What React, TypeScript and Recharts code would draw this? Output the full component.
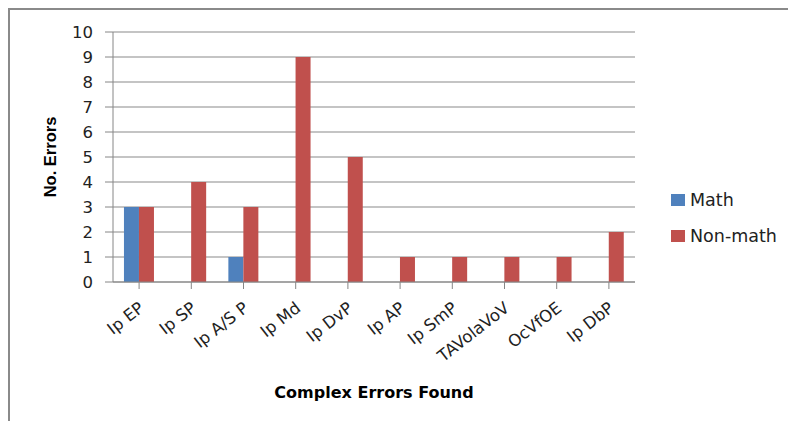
import React from 'react';
import { BarChart, Bar, XAxis, YAxis, CartesianGrid } from 'recharts';

const categories = ['Ip EP', 'Ip SP', 'Ip A/S P', 'Ip Md', 'Ip DvP', 'Ip AP', 'Ip SmP', 'TAVolaVoV', 'OcVfOE', 'Ip DbP'];
const mathValues = [3, 0, 1, 0, 0, 0, 0, 0, 0, 0];
const nonMathValues = [3, 4, 3, 9, 5, 1, 1, 1, 1, 2];
const yTicks = [0, 1, 2, 3, 4, 5, 6, 7, 8, 9, 10];
const seriesNames = ['Math', 'Non-math'];
const seriesColors = ['#4F81BD', '#C0504D'];

const data = categories.map((c, i) => ({ name: c, math: mathValues[i], nonmath: nonMathValues[i] }));

const FONT = '"DejaVu Sans", sans-serif';
const AXIS = '#868686';

const XTick = (props: any) => {
  const { x, y, payload } = props;
  return (
    <g transform={`translate(${x + 6},${y + 21})`}>
      <text textAnchor="end" transform="rotate(-38)" fontFamily={FONT} fontSize={16.5} fill="#222">
        {payload.value}
      </text>
    </g>
  );
};

const XTitle = (props: any) => {
  const { viewBox } = props;
  return (
    <text x={viewBox.x + viewBox.width / 2} y={viewBox.y + 116} textAnchor="middle" fontFamily={FONT} fontWeight="bold" fontSize={16} fill="#000">
      Complex Errors Found
    </text>
  );
};

const YTitle = (props: any) => {
  const { viewBox } = props;
  const cx = 56;
  const cy = viewBox.y + viewBox.height / 2;
  return (
    <text x={cx} y={cy} transform={`rotate(-90, ${cx}, ${cy})`} textAnchor="middle" fontFamily={'"Liberation Sans", sans-serif'} fontWeight="bold" fontSize={16.5} fill="#000">
      No. Errors
    </text>
  );
};

export default function App() {
  return (
    <div>
      <div style={{ position: 'fixed', left: 8, top: 8, right: 0, bottom: 0, borderTop: '2px solid #8a8a8a', borderLeft: '2px solid #8a8a8a', background: '#fff' }} />
      <div style={{ position: 'fixed', left: 0, top: 0, width: 788, height: 421 }}>
        <BarChart
          width={788}
          height={421}
          data={data}
          margin={{ top: 32, right: 153, left: 53, bottom: 39 }}
          barCategoryGap="21%"
          barGap={0}
        >
          <CartesianGrid vertical={false} stroke="#898989" strokeWidth={1} />
          <XAxis
            dataKey="name"
            interval={0}
            height={100}
            tickSize={7}
            tickMargin={0}
            stroke={AXIS}
            axisLine={{ stroke: AXIS }}
            tickLine={{ stroke: AXIS }}
            tick={<XTick />}
            label={<XTitle />}
          />
          <YAxis
            width={60}
            domain={[0, 10]}
            ticks={yTicks}
            interval={0}
            tickSize={8}
            tickMargin={12}
            stroke={AXIS}
            tick={{ fontFamily: FONT, fontSize: 16.5, fill: '#222' }}
            label={<YTitle />}
          />
          <Bar dataKey="math" name={seriesNames[0]} fill={seriesColors[0]} isAnimationActive={false} />
          <Bar dataKey="nonmath" name={seriesNames[1]} fill={seriesColors[1]} isAnimationActive={false} />
        </BarChart>
        {seriesNames.map((n, i) => (
          <div key={n} style={{ position: 'absolute', left: 671, top: 190 + i * 36, display: 'flex', alignItems: 'center', fontFamily: FONT, fontSize: 17.5, color: '#222' }}>
            <span style={{ display: 'inline-block', width: 14, height: 12, background: seriesColors[i], marginRight: 5 }} />
            <span>{n}</span>
          </div>
        ))}
      </div>
    </div>
  );
}
